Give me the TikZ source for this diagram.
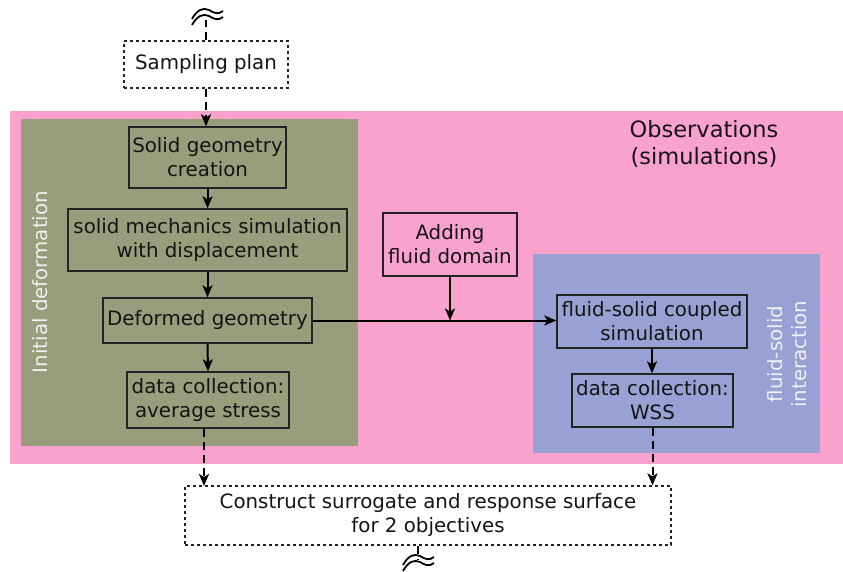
\documentclass[tikz,border=0pt]{standalone}
\usepackage{fontspec}
\setmainfont{DejaVu Sans}
\usetikzlibrary{arrows.meta,calc}
\definecolor{pinkbg}{RGB}{250,162,206}
\definecolor{olivebg}{RGB}{153,157,124}
\definecolor{bluebg}{RGB}{153,160,212}
\definecolor{txt}{RGB}{20,20,20}
\definecolor{edge}{RGB}{35,35,35}
\begin{document}
\begin{tikzpicture}[x=1pt,y=-1pt,
  every node/.style={font=\fontsize{19.8}{24}\selectfont, text=txt, align=center, inner sep=0pt},
  procbox/.style={draw=edge, line width=1.4pt},
  dotbox/.style={draw=edge, line width=1.3pt, dash pattern=on 3pt off 3pt},
  arr/.style={line width=2pt, draw=black, -{Stealth[length=12pt,width=10pt,inset=3pt]}},
  darr/.style={arr, dash pattern=on 8pt off 5pt},
  dline/.style={line width=2pt, draw=black, dash pattern=on 8pt off 5pt},
  wave/.style={line width=1.8pt, draw=black},
  lbl/.style={text=white!94!black}
]
\useasboundingbox (0,0) rectangle (843,571);
% backgrounds
\fill[pinkbg] (10,111) rectangle (843,464);
\fill[olivebg] (21,119) rectangle (358,446);
\fill[bluebg] (533,254) rectangle (820,453);
% labels
\node[font=\fontsize{22.5}{27}\selectfont] (obs) at (704,144) {Observations\\(simulations)};
\node[lbl, rotate=90] (init) at (40,282) {Initial deformation};
\node[lbl, rotate=90] (fsi) at (787,354) {fluid-solid\\interaction};
% boxes
\node[dotbox, minimum width=164pt, minimum height=47pt] (samp) at (206,64.5) {Sampling plan};
\node[procbox, minimum width=157pt, minimum height=61pt] (sg) at (207.5,157.5) {Solid geometry\\creation};
\node[procbox, minimum width=279pt, minimum height=62pt] (sm) at (207.5,240) {solid mechanics simulation\\with displacement};
\node[procbox, minimum width=209pt, minimum height=45pt] (dg) at (207.5,320.5) {Deformed geometry};
\node[procbox, minimum width=162pt, minimum height=56pt] (dcs) at (208,400) {data collection:\\average stress};
\node[procbox, minimum width=134pt, minimum height=63pt] (afd) at (450,244.5) {Adding\\fluid domain};
\node[procbox, minimum width=190pt, minimum height=53pt] (fsc) at (652,321.5) {fluid-solid coupled\\simulation};
\node[procbox, minimum width=161pt, minimum height=53pt] (wss) at (652.5,400.5) {data collection:\\WSS};
\node[dotbox, minimum width=486pt, minimum height=59pt] (cs) at (428,515.5) {Construct surrogate and response surface\\for 2 objectives};
% connectors
\draw[darr] (samp.south) -- (samp.south |- sg.north);
\draw[arr] (sg.south) -- (sm.north);
\draw[arr] (sm.south) -- (dg.north);
\draw[arr] (dg.south) -- (dcs.north);
\draw[arr] (dg.east) -- (dg.east -| fsc.west);
\coordinate (join) at (afd.south |- dg.east);
\draw[arr] (afd.south) -- (join);
\draw[arr] (fsc.south) -- (fsc.south |- wss.north);
\draw[darr] (dcs.south -| 204,0) -- (204,486);
\draw[darr] (wss.south) -- (wss.south |- cs.north);
% top break symbol
\coordinate (wt) at (206,20);
\draw[dline] (samp.north) -- (wt);
\draw[wave] (192,19) .. controls (197,10) and (203,7) .. (209,10) .. controls (214,13) and (218,15) .. (223,11);
\draw[wave] (192,25) .. controls (197,16) and (203,13) .. (209,16) .. controls (214,19) and (218,21) .. (223,17);
% bottom break symbol
\coordinate (wb) at (418,559);
\draw[dline] (cs.south -| wb) -- (wb);
\draw[wave] (403,565) .. controls (408,556) and (414,553) .. (420,556) .. controls (425,559) and (429,561) .. (434,557);
\draw[wave] (403,571) .. controls (408,562) and (414,559) .. (420,562) .. controls (425,565) and (429,567) .. (434,563);
\end{tikzpicture}
\end{document}
